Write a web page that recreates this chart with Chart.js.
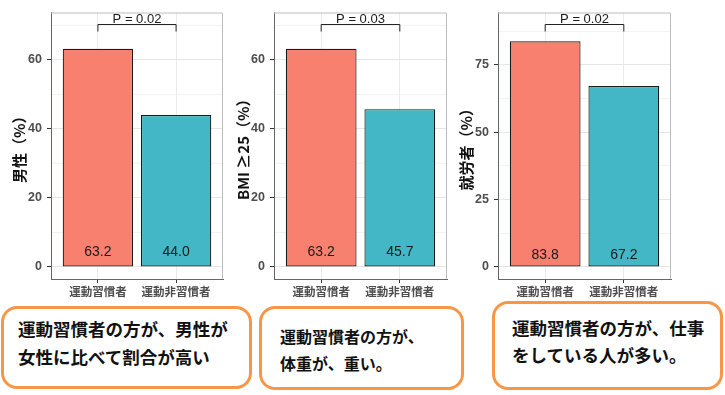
<!DOCTYPE html>
<html lang="ja">
<head>
<meta charset="utf-8">
<script src="https://cdn.jsdelivr.net/npm/chart.js@4.4.1/dist/chart.umd.min.js"></script>
<style>
  html, body { margin: 0; padding: 0; background: #fff; }
  body { width: 725px; height: 395px; position: relative; overflow: hidden; }
  canvas { position: absolute; top: 0; }
  .note {
    position: absolute; box-sizing: border-box;
    border: 3px solid #F79646; border-radius: 16px; background: #fff;
  }
  .note p {
    position: absolute; margin: 0; white-space: nowrap;
    font-family: "Noto Sans CJK JP", sans-serif; font-weight: bold; color: #111;
  }
</style>
</head>
<body>
<canvas id="c1" width="236" height="300" style="left:0px"></canvas>
<canvas id="c2" width="236" height="300" style="left:228px"></canvas>
<canvas id="c3" width="230" height="300" style="left:455px"></canvas>

<div class="note" style="left:1px; top:306px; width:251px; height:83px;">
  <p style="left:14px; top:6px; font-size:17.5px; line-height:28px;">運動習慣者の方が、男性が<br>女性に比べて割合が高い</p>
</div>
<div class="note" style="left:259px; top:306px; width:205px; height:84px;">
  <p style="left:18px; top:14px; font-size:16px; line-height:27px;">運動習慣者の方が、<br>体重が、重い。</p>
</div>
<div class="note" style="left:492px; top:301px; width:231px; height:89px;">
  <p style="left:17px; top:10px; font-size:17.5px; line-height:27px;">運動習慣者の方が、仕事<br>をしている人が多い。</p>
</div>

<script>
// data
const categories = ['運動習慣者', '運動非習慣者'];
const maleShare = [63.2, 44.0];
const bmiShare = [63.2, 45.7];
const workerShare = [83.8, 67.2];

const yTitles = ['男性（%）', 'BMI ≥25（%）', '就労者（%）'];
const pLabels = ['P = 0.02', 'P = 0.03', 'P = 0.02'];
const bracketLevels = [70.3, 70.3, 90.3];

const majorTicksA = [0, 20, 40, 60];
const minorTicksA = [10, 30, 50, 70];
const majorTicksB = [0, 25, 50, 75];
const minorTicksB = [12.5, 37.5, 62.5, 87.5];

const barColors = ['#F8806F', '#43B7C5'];
const LABEL_AT = 5;

const panelDeco = {
  id: 'panelDeco',
  afterDatasetsDraw(chart, args, opts) {
    const { ctx, chartArea: a, scales: { x, y } } = chart;
    ctx.save();
    // top and right edges of the panel
    ctx.strokeStyle = '#bdbdbd';
    ctx.lineWidth = 1;
    ctx.beginPath();
    ctx.moveTo(a.left, a.top + 0.5);
    ctx.lineTo(a.right - 0.5, a.top + 0.5);
    ctx.lineTo(a.right - 0.5, a.bottom);
    ctx.stroke();

    // value labels inside bars
    ctx.fillStyle = '#1a1a1a';
    ctx.font = '14px "Liberation Sans", Arial, sans-serif';
    ctx.textAlign = 'center';
    ctx.textBaseline = 'middle';
    chart.data.datasets[0].data.forEach((v, i) => {
      ctx.fillText(v.toFixed(1), x.getPixelForValue(i), y.getPixelForValue(LABEL_AT) + 2);
    });

    // significance bracket
    const by = Math.round(y.getPixelForValue(opts.level)) + 0.5;
    const x0 = x.getPixelForValue(0), x1 = x.getPixelForValue(1);
    ctx.strokeStyle = '#222';
    ctx.beginPath();
    ctx.moveTo(x0, by + 7);
    ctx.lineTo(x0, by);
    ctx.lineTo(x1, by);
    ctx.lineTo(x1, by + 7);
    ctx.stroke();
    ctx.font = '13px "Liberation Sans", Arial, sans-serif';
    ctx.textBaseline = 'alphabetic';
    ctx.fillText(opts.text, (x0 + x1) / 2, by - 2);
    ctx.restore();
  }
};

function makePanel(id, values, title, pText, level, majors, minors, yMin, yMax, axisW, padRight, titlePad) {
  const allTicks = majors.concat(minors).sort((p, q) => p - q);
  return new Chart(document.getElementById(id), {
    type: 'bar',
    data: {
      labels: categories,
      datasets: [{
        data: values,
        backgroundColor: barColors,
        borderColor: '#1a1a1a',
        borderWidth: 1.2,
        borderSkipped: false,
        categoryPercentage: 0.9,
        barPercentage: 1.0
      }]
    },
    options: {
      responsive: false,
      animation: false,
      layout: { padding: { top: 7, right: padRight, left: 0, bottom: 0 } },
      plugins: {
        legend: { display: false },
        tooltip: { enabled: false },
        panelDeco: { text: pText, level: level }
      },
      scales: {
        x: {
          afterBuildTicks: (s) => { s._startValue = -0.6; s._valueRange = 2.2; },
          afterFit: (s) => { s.height = 21; },
          grid: { offset: false, color: '#ebebeb', tickColor: '#333', tickLength: 4 },
          border: { color: '#666' },
          ticks: {
            color: '#4d4d4d', padding: 2,
            font: { family: '"Noto Sans CJK JP", sans-serif', size: 11.5, weight: 'bold' }
          }
        },
        y: {
          min: yMin, max: yMax,
          afterBuildTicks: (s) => { s.ticks = allTicks.map(v => ({ value: v })); },
          afterFit: (s) => { s.width = axisW; },
          grid: {
            color: (c) => majors.includes(c.tick.value) ? '#e6e6e6' : '#f3f3f3',
            tickColor: (c) => majors.includes(c.tick.value) ? '#333' : 'rgba(0,0,0,0)',
            tickLength: 4
          },
          border: { color: '#666' },
          ticks: {
            color: '#4d4d4d', padding: 5,
            font: { family: '"Liberation Sans", Arial, sans-serif', size: 12.5, weight: 'bold' },
            callback: (v) => majors.includes(v) ? String(v) : ''
          },
          title: {
            display: true, text: title, color: '#111',
            padding: { top: titlePad, bottom: 0 },
            font: { family: '"Noto Sans CJK JP", sans-serif', size: 15, weight: 'bold' }
          }
        }
      }
    },
    plugins: [panelDeco]
  });
}

makePanel('c1', maleShare, yTitles[0], pLabels[0], bracketLevels[0], majorTicksA, minorTicksA, -3.5, 73.7, 51, 13, 10);
makePanel('c2', bmiShare, yTitles[1], pLabels[1], bracketLevels[1], majorTicksA, minorTicksA, -3.5, 73.7, 46, 17, 6);
makePanel('c3', workerShare, yTitles[2], pLabels[2], bracketLevels[2], majorTicksB, minorTicksB, -4.5, 94.5, 43, 14, 2);
</script>
</body>
</html>
